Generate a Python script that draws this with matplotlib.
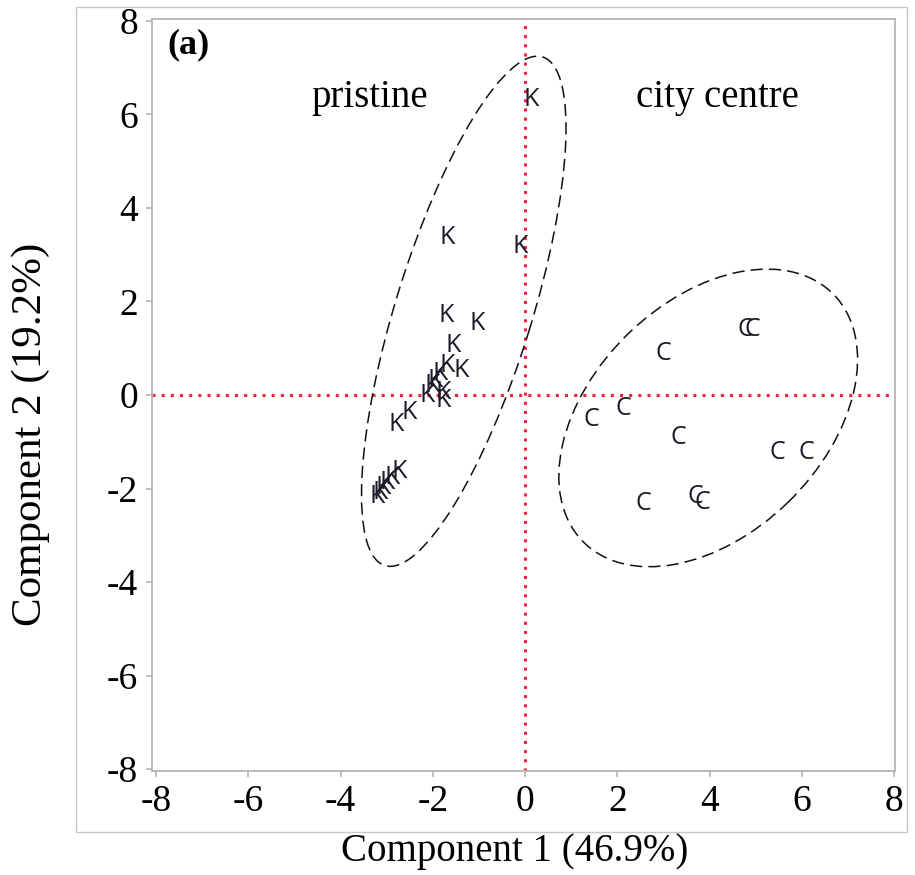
import matplotlib
matplotlib.use("Agg")
import matplotlib.pyplot as plt
from matplotlib.patches import Ellipse, Rectangle

# PCA scores, pristine sites (K) and city centre sites (C)
k_x = [0.13, -1.68, -0.11, -1.72, -1.04, -1.56, -1.69, -1.39, -1.85, -1.96,
       -2.02, -2.13, -1.77, -1.78, -2.52, -2.79, -2.73, -2.88, -2.99, -3.08,
       -3.15, -3.20]
k_y = [6.31, 3.37, 3.18, 1.70, 1.53, 1.06, 0.64, 0.52, 0.46, 0.32,
       0.20, 0.00, 0.06, -0.11, -0.38, -0.64, -1.63, -1.76, -1.87, -1.98,
       -2.08, -2.17]
c_x = [4.78, 4.93, 3.00, 2.13, 1.43, 3.33, 5.48, 6.09, 2.57, 3.70, 3.85]
c_y = [1.41, 1.41, 0.88, -0.28, -0.53, -0.90, -1.24, -1.22, -2.33, -2.18, -2.29]

# confidence ellipses: centre, full width, full height, angle
k_ell = ((-1.33, 1.79), 11.4, 2.95, 72.5)
c_ell = ((3.97, -0.49), 7.58, 5.0, 43.7)

x_ticks = [-8, -6, -4, -2, 0, 2, 4, 6, 8]
y_ticks = [-8, -6, -4, -2, 0, 2, 4, 6, 8]

serif = "Liberation Serif"
grey = "#b4b4b4"
red = "#f0243c"

fig = plt.figure(figsize=(9.15, 8.75), dpi=100)
ax = fig.add_axes([152 / 915, 1 - 771 / 875, (895 - 152) / 915, (771 - 19) / 875])

# outer frame of the panel
fig.patches.append(Rectangle((76 / 915, 1 - 832 / 875), (907 - 76) / 915, (832 - 7) / 875,
                             transform=fig.transFigure, fill=False,
                             edgecolor="#c8c8c8", linewidth=1.0))

ax.axhline(0, color=red, linestyle=(0, (1, 2)), linewidth=2.2, zorder=1)
ax.axvline(0, color=red, linestyle=(0, (1, 2)), linewidth=2.2, zorder=1)

for (cen, w, h, ang) in [k_ell, c_ell]:
    ax.add_patch(Ellipse(cen, w, h, angle=ang, fill=False, edgecolor="#111111",
                         linestyle=(0, (8, 4)), linewidth=1.1, zorder=2))

for x, y in zip(k_x, k_y):
    ax.text(x, y, "K", ha="center", va="center", fontsize=18,
            family="Open Sans", color="#1a1a2a", zorder=3)
for x, y in zip(c_x, c_y):
    ax.text(x, y, "C", ha="center", va="center", fontsize=18,
            family="Open Sans", color="#1a1a2a", zorder=3)

ax.text(-3.37, 6.37, "pristine", ha="center", va="center", fontsize=28, family=serif)
ax.text(4.17, 6.37, "city centre", ha="center", va="center", fontsize=28, family=serif)
ax.text(-7.76, 7.49, "(a)", ha="left", va="center", fontsize=26, family=serif,
        fontweight="bold")

ax.set_xlim(-8.09, 8.02)
ax.set_ylim(-8.04, 8.04)
ax.set_xticks(x_ticks)
ax.set_yticks(y_ticks)
ax.set_xticklabels([str(t) for t in x_ticks], family=serif, fontsize=27)
ax.set_yticklabels([str(t) for t in y_ticks], family=serif, fontsize=27)
ax.tick_params(direction="out", length=4, width=1.2, color=grey, pad=6)

for s in ax.spines.values():
    s.set_color(grey)
    s.set_linewidth(1.3)

ax.set_xlabel("Component 1 (46.9%)", family=serif, fontsize=28)
ax.set_ylabel("Component 2 (19.2%)", family=serif, fontsize=31)
ax.xaxis.set_label_coords(0.4886, -0.082)
ax.yaxis.set_label_coords(-0.137, 0.448)

fig.savefig("out.png", dpi=100)
